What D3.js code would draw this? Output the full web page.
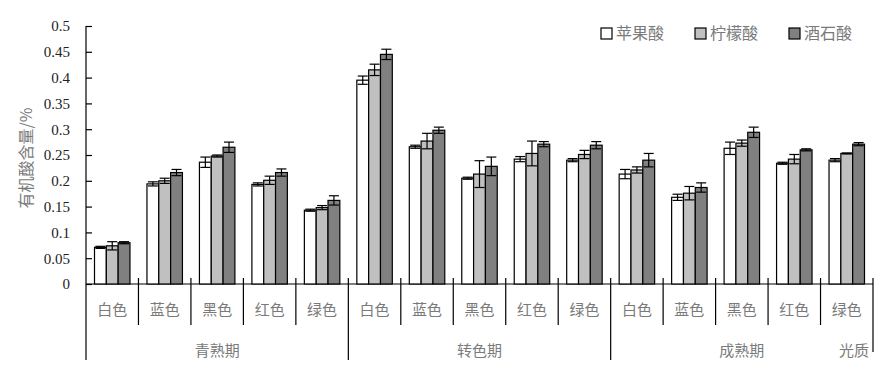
<!DOCTYPE html>
<html>
<head>
<meta charset="utf-8">
<script src="https://cdn.jsdelivr.net/npm/d3@7"></script>
<style>
  body { margin: 0; background: #fff; }
  svg { display: block; }
</style>
</head>
<body>
<svg></svg>
<script>
const width = 884, height = 372;
const margin = { left: 86, right: 11, top: 26, bottom: 88 };

// data
const stages = ["青熟期", "转色期", "成熟期"];
const colors = ["白色", "蓝色", "黑色", "红色", "绿色"];
const series = ["苹果酸", "柠檬酸", "酒石酸"];
const malic = [0.071, 0.194, 0.236, 0.193, 0.143,
               0.395, 0.266, 0.205, 0.242, 0.240,
               0.213, 0.168, 0.263, 0.234, 0.240];
const malicErr = [0.002, 0.004, 0.010, 0.003, 0.002,
                  0.008, 0.003, 0.002, 0.005, 0.003,
                  0.009, 0.006, 0.012, 0.002, 0.003];
const citric = [0.074, 0.200, 0.248, 0.201, 0.148,
                0.415, 0.277, 0.213, 0.253, 0.251,
                0.221, 0.176, 0.273, 0.242, 0.253];
const citricErr = [0.008, 0.005, 0.002, 0.008, 0.004,
                   0.011, 0.015, 0.026, 0.024, 0.008,
                   0.006, 0.013, 0.006, 0.009, 0.001];
const tartaric = [0.080, 0.216, 0.265, 0.216, 0.162,
                  0.445, 0.298, 0.228, 0.271, 0.269,
                  0.240, 0.187, 0.294, 0.260, 0.271];
const tartaricErr = [0.002, 0.006, 0.010, 0.007, 0.009,
                     0.010, 0.006, 0.018, 0.005, 0.007,
                     0.013, 0.009, 0.010, 0.002, 0.003];
const yTicks = [0, 0.05, 0.1, 0.15, 0.2, 0.25, 0.3, 0.35, 0.4, 0.45, 0.5];
const yLabel = "有机酸含量/%";
const xLabel = "光质";

const fills = ["#ffffff", "#c0c0c0", "#808080"];
const cjk = "'Noto Sans CJK SC', 'Noto Sans', sans-serif";
const textGrey = "#7a7a7a";

const values = [malic, citric, tartaric];
const errors = [malicErr, citricErr, tartaricErr];

// one slot per stage/colour pair
const cats = [];
stages.forEach((s, i) => colors.forEach((c, j) => cats.push({ stage: s, color: c, key: i + "-" + j })));

const rows = [];
cats.forEach((c, i) => series.forEach((s, k) => rows.push({
  key: c.key, k: k, v: values[k][i], e: errors[k][i]
})));

const svg = d3.select("svg").attr("width", width).attr("height", height)
  .attr("viewBox", [0, 0, width, height]);

const x = d3.scaleBand()
  .domain(cats.map(d => d.key))
  .range([margin.left, width - margin.right]);
const xs = d3.scaleBand()
  .domain(d3.range(series.length))
  .range([8.5, x.bandwidth() - 8.5]);
const y = d3.scaleLinear().domain([0, 0.5]).range([height - margin.bottom, margin.top]);

// y axis
const yAxis = d3.axisLeft(y)
  .tickValues(yTicks)
  .tickSizeInner(-6)
  .tickSizeOuter(0)
  .tickPadding(16)
  .tickFormat(d => d3.format("")(+d.toFixed(2)));
const gy = svg.append("g")
  .attr("transform", `translate(${margin.left},0)`)
  .call(yAxis);
gy.select(".domain").remove();
gy.selectAll(".tick line").attr("stroke", "#000").attr("stroke-width", 1.2);
gy.selectAll(".tick text")
  .attr("fill", "#222")
  .style("font-family", "'Liberation Serif', 'Times New Roman', serif")
  .style("font-size", "15px");
svg.append("line")
  .attr("x1", margin.left).attr("x2", margin.left)
  .attr("y1", y(0.5)).attr("y2", 360)
  .attr("stroke", "#000").attr("stroke-width", 1.2);

svg.append("text")
  .attr("transform", `translate(32,158) rotate(-90)`)
  .attr("text-anchor", "middle")
  .attr("fill", textGrey)
  .style("font-family", cjk)
  .style("font-size", "16px")
  .text(yLabel);

// x axis line + separators
svg.append("line")
  .attr("x1", margin.left).attr("x2", width - margin.right)
  .attr("y1", y(0)).attr("y2", y(0))
  .attr("stroke", "#000").attr("stroke-width", 1.2);

const bounds = d3.range(1, cats.length + 1);
svg.append("g").selectAll("line").data(bounds).join("line")
  .attr("x1", i => i < cats.length ? x(cats[i].key) : x.range()[1])
  .attr("x2", i => i < cats.length ? x(cats[i].key) : x.range()[1])
  .attr("y1", y(0) - 6)
  .attr("y2", i => i === cats.length ? 352 : (i % colors.length === 0 ? 360 : 325))
  .attr("stroke", "#000").attr("stroke-width", 1.2);

// category labels
svg.append("g").selectAll("text").data(cats).join("text")
  .attr("x", d => x(d.key) + x.bandwidth() / 2)
  .attr("y", 315)
  .attr("text-anchor", "middle")
  .attr("fill", textGrey)
  .style("font-family", cjk)
  .style("font-size", "15px")
  .text(d => d.color);

svg.append("g").selectAll("text").data(stages).join("text")
  .attr("x", (d, i) => (x(i + "-0") + x(i + "-" + (colors.length - 1)) + x.bandwidth()) / 2)
  .attr("y", 356)
  .attr("text-anchor", "middle")
  .attr("fill", textGrey)
  .style("font-family", cjk)
  .style("font-size", "15px")
  .text(d => d);

svg.append("text")
  .attr("x", 869).attr("y", 356)
  .attr("text-anchor", "end")
  .attr("fill", textGrey)
  .style("font-family", cjk)
  .style("font-size", "15px")
  .text(xLabel);

// bars
svg.append("g").selectAll("rect").data(rows).join("rect")
  .attr("x", d => x(d.key) + xs(d.k))
  .attr("width", xs.bandwidth())
  .attr("y", d => y(d.v))
  .attr("height", d => y(0) - y(d.v))
  .attr("fill", d => fills[d.k])
  .attr("stroke", "#000")
  .attr("stroke-width", 1.2);

// error bars
const eb = svg.append("g").attr("stroke", "#000").attr("stroke-width", 1.2);
const cx = d => x(d.key) + xs(d.k) + xs.bandwidth() / 2;
eb.selectAll("line.v").data(rows).join("line").attr("class", "v")
  .attr("x1", cx).attr("x2", cx)
  .attr("y1", d => y(d.v - d.e)).attr("y2", d => y(d.v + d.e));
eb.selectAll("line.t").data(rows).join("line").attr("class", "t")
  .attr("x1", d => cx(d) - 5).attr("x2", d => cx(d) + 5)
  .attr("y1", d => y(d.v + d.e)).attr("y2", d => y(d.v + d.e));
eb.selectAll("line.b").data(rows).join("line").attr("class", "b")
  .attr("x1", d => cx(d) - 5).attr("x2", d => cx(d) + 5)
  .attr("y1", d => y(d.v - d.e)).attr("y2", d => y(d.v - d.e));

// legend
const legX = [601, 695, 789];
const leg = svg.append("g").selectAll("g").data(series).join("g")
  .attr("transform", (d, i) => `translate(${legX[i]},28)`);
leg.append("rect")
  .attr("width", 11).attr("height", 11)
  .attr("fill", (d, i) => fills[i])
  .attr("stroke", "#000").attr("stroke-width", 1.2);
leg.append("text")
  .attr("x", 15).attr("y", 11)
  .attr("fill", textGrey)
  .style("font-family", cjk)
  .style("font-size", "16px")
  .text(d => d);
</script>
</body>
</html>
